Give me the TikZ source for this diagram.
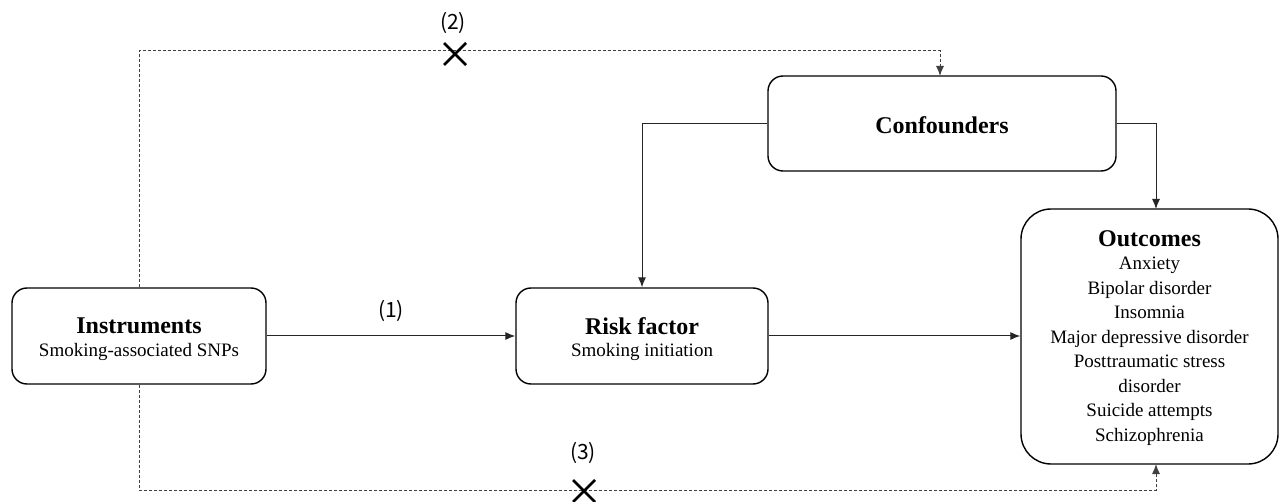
\documentclass[tikz,border=0pt]{standalone}
\usepackage{fontspec}
\setmainfont{Liberation Serif}
\newfontfamily\labfont{Noto Sans CJK SC}
\usetikzlibrary{arrows.meta}
\begin{document}
\begin{tikzpicture}[x=1pt,y=-1pt,
  box/.style={draw=black, line width=1.4pt, rounded corners=15pt, inner sep=0pt, align=center},
  conn/.style={draw=black!85, line width=1pt, -{Latex[length=10pt,width=8pt]}},
  dconn/.style={draw=black!75, line width=1pt, dash pattern=on 3pt off 2pt, -{Latex[length=10pt,width=8pt]}},
  ttl/.style={font=\fontsize{24}{28}\selectfont\bfseries},
  sub/.style={font=\fontsize{19}{24.5}\selectfont},
  lab/.style={font=\labfont\fontsize{21}{24}\selectfont, inner sep=0pt},
  xmark/.style={line width=2.6pt, black}]
\useasboundingbox (0,0) rectangle (1279,502);
% boxes
\node[box, minimum width=254pt, minimum height=96pt] (ins) at (139,336) {};
\node[ttl] (insT) at (139,326) {Instruments};
\node[sub] (insS) at (139,352) {Smoking-associated SNPs};
\node[box, minimum width=252pt, minimum height=96pt] (risk) at (642,336) {};
\node[ttl] (riskT) at (642,326) {Risk factor};
\node[sub] (riskS) at (642,352) {Smoking initiation};
\node[box, minimum width=348pt, minimum height=95pt] (conf) at (942,123.5) {};
\node[ttl] (confT) at (942,125) {Confounders};
\node[box, rounded corners=30pt, minimum width=257pt, minimum height=255pt] (out) at (1149.5,336.5) {};
\node[inner sep=0pt, align=center, font=\fontsize{19}{24.5}\selectfont] (outT) at (1149.5,338)
 {{\fontsize{24}{28}\selectfont\bfseries Outcomes}\\[-1pt] Anxiety\\ Bipolar disorder\\ Insomnia\\ Major depressive disorder\\ Posttraumatic stress\\ disorder\\ Suicide attempts\\ Schizophrenia};
% solid connectors
\draw[conn] (ins.east) -- (risk.west) node[midway, lab, above=14pt] (l1) {(1)};
\draw[conn] (risk.east) -- (out.west |- risk.east);
\draw[conn] (conf.west) -| (risk.north);
\draw[conn] (conf.east) -| (1156,209);
% dashed connectors
\coordinate (t2) at (139,51);
\coordinate (t3) at (139,490);
\draw[dconn] (ins.north) -- (t2) -| (940,76);
\draw[dconn] (ins.south) -- (t3) -| (1156,464);
% X marks and labels
\coordinate (x2) at (455,54);
\coordinate (x3) at (584,491);
\draw[xmark] ([shift={(-11,-11)}]x2) -- ([shift={(11,11)}]x2) ([shift={(-11,11)}]x2) -- ([shift={(11,-11)}]x2);
\draw[xmark] ([shift={(-11,-11)}]x3) -- ([shift={(11,11)}]x3) ([shift={(-11,11)}]x3) -- ([shift={(11,-11)}]x3);
\node[lab] (l2) at (453,23) {(2)};
\node[lab] (l3) at (583,453) {(3)};
\end{tikzpicture}
\end{document}
